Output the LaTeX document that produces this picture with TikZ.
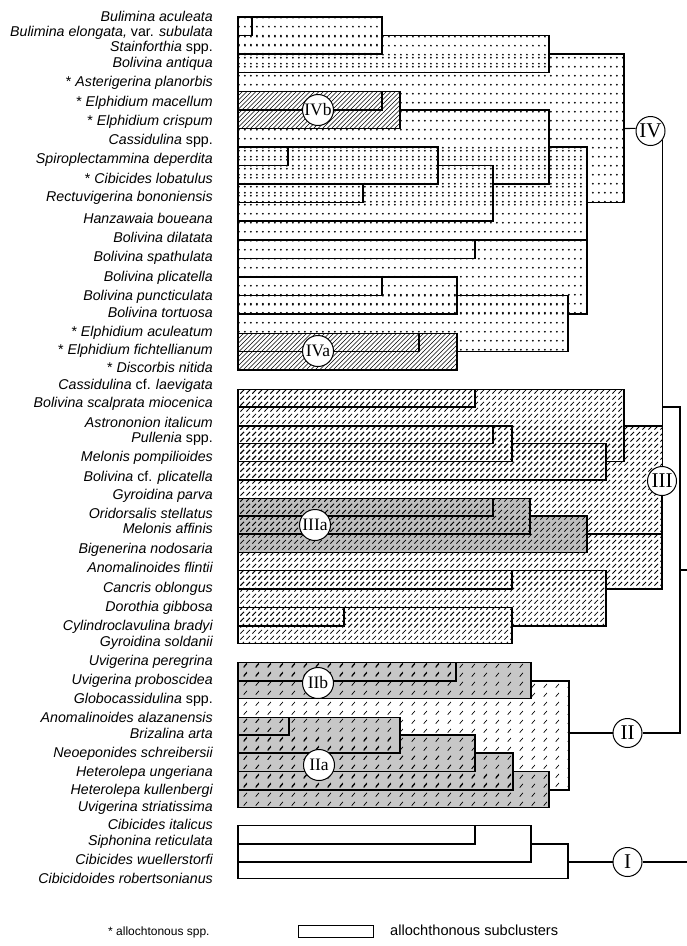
\documentclass[tikz,border=0pt]{standalone}
\usepackage{fontspec}
\setmainfont{Liberation Sans}
\newfontfamily\numfont{Liberation Serif}
\usetikzlibrary{patterns}
\pgfdeclarepatternformonly{ivdots}{\pgfqpoint{0pt}{0pt}}{\pgfqpoint{6.4pt}{9.25pt}}{\pgfqpoint{6.4pt}{9.25pt}}{%
  \pgfpathcircle{\pgfqpoint{3.2pt}{4.6pt}}{1.05pt}\pgfusepath{fill}}
\pgfdeclarepatternformonly{densehatch}{\pgfqpoint{-1pt}{-1pt}}{\pgfqpoint{5.5pt}{5.5pt}}{\pgfqpoint{4.5pt}{4.5pt}}{%
  \pgfsetlinewidth{0.65pt}\pgfpathmoveto{\pgfqpoint{0pt}{0pt}}\pgfpathlineto{\pgfqpoint{4.6pt}{4.6pt}}\pgfusepath{stroke}}
\pgfdeclarepatternformonly{dashhatch}{\pgfqpoint{0pt}{0pt}}{\pgfqpoint{6pt}{6pt}}{\pgfqpoint{6pt}{6pt}}{%
  \pgfsetlinewidth{0.85pt}\pgfpathmoveto{\pgfqpoint{0.5pt}{0.5pt}}\pgfpathlineto{\pgfqpoint{4.7pt}{4.7pt}}\pgfusepath{stroke}}
\pgfdeclarepatternformonly{sparsehatch}{\pgfqpoint{0pt}{0pt}}{\pgfqpoint{12pt}{9.25pt}}{\pgfqpoint{12pt}{9.25pt}}{%
  \pgfsetlinewidth{0.75pt}\pgfpathmoveto{\pgfqpoint{4pt}{2.5pt}}\pgfpathlineto{\pgfqpoint{7.5pt}{6.5pt}}\pgfusepath{stroke}}
\begin{document}
\begin{tikzpicture}[x=1pt,y=-1pt,
  dl/.style={line width=1.1pt, line cap=rect},
  cl/.style={line width=1.1pt},
  lab/.style={anchor=base east, inner sep=0pt, font=\fontsize{14.2}{16}\selectfont\itshape},
  leg/.style={anchor=base west, inner sep=0pt},
  bigc/.style={circle, draw, line width=1pt, fill=white, minimum size=29pt, inner sep=0pt, font=\numfont\fontsize{21}{21}\selectfont},
  subc/.style={circle, draw, line width=1pt, fill=white, minimum size=31pt, inner sep=0pt, font=\numfont\fontsize{17.5}{18}\selectfont},
  ]
\useasboundingbox (0,0) rectangle (687,946);
\fill[white] (0,0) rectangle (687,946);
% ---------- fills ----------
% IV dots
\foreach \x/\a/\b in {382/17/54, 549/35.5/72.5, 624/54/202.3, 587/147/314, 568/295.7/351.7, 457/333.3/370}
  \fill[pattern=ivdots] (238,\a) rectangle (\x,\b);
% IVb, IVa dense hatch
\foreach \x/\a/\b in {400/91.5/128.3, 457/333.3/370}{
  \fill[white] (238,\a) rectangle (\x,\b);
  \fill[pattern=densehatch] (238,\a) rectangle (\x,\b);}
% III dashed hatch
\foreach \x/\a/\b in {475/389.3/407, 624/389.3/461.7, 606/443.3/480, 662/426/589, 606/570.7/626, 512/607.3/643.3}
  \fill[pattern=dashhatch] (238,\a) rectangle (\x,\b);
% IIIa grey + hatch
\foreach \x/\a/\b in {493/498.3/516, 530/498.3/534, 587/516/552.3}
  \fill[black!25] (238,\a) rectangle (\x,\b);
\foreach \x/\a/\b in {493/498.3/516, 530/498.3/534, 587/516/552.3}
  \fill[pattern=dashhatch] (238,\a) rectangle (\x,\b);
% II sparse hatch
\fill[pattern=sparsehatch] (238,681) rectangle (569,790);
% IIb, IIa grey + sparse hatch
\foreach \x/\a/\b in {456/662.7/681, 531/662.7/698.3, 289/717.3/735, 400/717.3/753, 475/735/771.7, 513/753/790, 549/771.7/807.7}
  \fill[black!22] (238,\a) rectangle (\x,\b);
\foreach \x/\a/\b in {456/662.7/681, 531/662.7/698.3, 289/717.3/735, 400/717.3/753, 475/735/771.7, 513/753/790, 549/771.7/807.7}
  \fill[pattern=sparsehatch] (238,\a) rectangle (\x,\b);
% ---------- dendrogram lines ----------
\foreach \y/\a/\b in {17/238/382, 35.5/238/252, 35.5/382/549, 54/238/382, 54/549/624, 72.5/238/549,
  91.5/238/400, 110/238/382, 110/400/549, 128.3/238/400, 147/238/438, 147/549/587, 165.5/238/288,
  165.5/438/493, 184/238/438, 184/493/549, 202.3/238/363, 202.3/587/624, 221/238/493, 240/238/587,
  258.3/238/475, 277/238/457, 295.7/238/382, 295.7/457/568, 314/238/457, 314/568/587, 333.3/238/457,
  351.7/238/419, 351.7/457/568, 370/238/457,
  389.3/238/624, 407/238/475, 426/238/512, 426/624/662, 443.3/238/493, 443.3/512/606, 461.7/238/512,
  461.7/606/624, 480/238/606, 498.3/238/530, 516/238/493, 516/530/587, 534/238/530, 534/587/662,
  552.3/238/587, 570.7/238/606, 589/238/512, 589/606/662, 607.3/238/512, 626/238/344, 626/512/606,
  643.3/238/512,
  662.7/238/531, 681/238/456, 681/531/569, 698.3/238/531, 717.3/238/400, 735/238/289, 735/400/475,
  753/238/400, 753/475/513, 771.7/238/475, 771.7/513/549, 790/238/513, 790/549/569, 807.7/238/549,
  825.7/238/531, 844/238/475, 844/531/568, 862/238/531, 878.3/238/568}
  \draw[dl] (\a,\y) -- (\b,\y);
\foreach \x/\a/\b in {252/17/35.5, 382/17/54, 549/35.5/72.5, 624/54/202.3, 382/91.5/110, 400/91.5/128.3,
  549/110/184, 288/147/165.5, 438/147/184, 363/184/202.3, 493/165.5/221, 587/147/314, 475/240/258.3,
  382/277/295.7, 457/277/314, 568/295.7/351.7, 419/333.3/351.7, 457/333.3/370, 238/17/370,
  475/389.3/407, 624/389.3/461.7, 493/426/443.3, 512/426/461.7, 606/443.3/480, 493/498.3/516,
  530/498.3/534, 587/516/552.3, 512/570.7/589, 344/607.3/626, 512/607.3/643.3, 606/570.7/626, 238/389.3/643.3,
  456/662.7/681, 531/662.7/698.3, 569/681/790, 289/717.3/735, 400/717.3/753, 475/735/771.7,
  513/753/790, 549/771.7/807.7, 238/662.7/807.7,
  475/825.7/844, 531/825.7/862, 568/844/878.3, 238/825.7/878.3}
  \draw[dl] (\x,\a) -- (\x,\b);
% ---------- main cluster circles and connectors ----------
\node[bigc] (IV) at (650.5,131) {IV};
\node[bigc] (III) at (662,481) {III};
\node[bigc] (II) at (627.5,733) {II};
\node[bigc] (I) at (627.5,862) {I};
\coordinate (c4) at (624,128.5);
\coordinate (m3) at (662,589);
\coordinate (j4) at (662,407);
\coordinate (j5) at (680,407);
\coordinate (c2) at (569,733);
\coordinate (rj) at (680,570);
\coordinate (r) at (687,570);
\coordinate (c1) at (568,862);
\coordinate (r1) at (687,862);
\draw[cl] (c4) -- (IV.170);
\draw[cl] (IV.-37) -- (IV.-37 |- III.north);
\draw[cl] (III.south) -- (III.south |- m3);
\draw[cl] (j4) -- (j5) -- (j5 |- II.east) -- (II.east);
\draw[cl] (c2) -- (II.west);
\draw[cl] (rj) -- (r);
\draw[cl] (c1) -- (I.west);
\draw[cl] (I.east) -- (r1);
% ---------- subcluster circles ----------
\node[subc] (IVb) at (318,110) {IVb};
\node[subc] (IVa) at (318,351) {IVa};
\node[subc] (IIIa) at (315,525) {IIIa};
\node[subc] (IIb) at (318,683) {IIb};
\node[subc] (IIa) at (319,765) {IIa};
% ---------- species labels ----------
\node[lab] (s1) at (213,21.2) {Bulimina aculeata};
\node[lab] (s2) at (213,36.2) {Bulimina elongata, {\upshape var.} subulata};
\node[lab] (s3) at (213,51.2) {Stainforthia {\upshape spp.}};
\node[lab] (s4) at (213,67.2) {Bolivina antiqua};
\node[lab] (s5) at (213,86.2) {{\upshape *} Asterigerina planorbis};
\node[lab] (s6) at (213,106.2) {{\upshape *} Elphidium macellum};
\node[lab] (s7) at (213,125.5) {{\upshape *} Elphidium crispum};
\node[lab] (s8) at (213,144.5) {Cassidulina {\upshape spp.}};
\node[lab] (s9) at (213,163.8) {Spiroplectammina deperdita};
\node[lab] (s10) at (213,183.5) {{\upshape *} Cibicides lobatulus};
\node[lab] (s11) at (213,201.2) {Rectuvigerina bononiensis};
\node[lab] (s12) at (213,223.5) {Hanzawaia boueana};
\node[lab] (s13) at (213,242.2) {Bolivina dilatata};
\node[lab] (s14) at (213,261.8) {Bolivina spathulata};
\node[lab] (s15) at (213,281.2) {Bolivina plicatella};
\node[lab] (s16) at (213,300.2) {Bolivina puncticulata};
\node[lab] (s17) at (213,317.8) {Bolivina tortuosa};
\node[lab] (s18) at (213,336.2) {{\upshape *} Elphidium aculeatum};
\node[lab] (s19) at (213,354.5) {{\upshape *} Elphidium fichtellianum};
\node[lab] (s20) at (213,372.2) {{\upshape *} Discorbis nitida};
\node[lab] (t1) at (213,389.5) {Cassidulina {\upshape cf.} laevigata};
\node[lab] (t2) at (213,407.8) {Bolivina scalprata miocenica};
\node[lab] (t3) at (213,427.2) {Astrononion italicum};
\node[lab] (t4) at (213,442.8) {Pullenia {\upshape spp.}};
\node[lab] (t5) at (213,461.2) {Melonis pompilioides};
\node[lab] (t6) at (213,481.2) {Bolivina {\upshape cf.} plicatella};
\node[lab] (t7) at (213,499.5) {Gyroidina parva};
\node[lab] (t8) at (213,518.5) {Oridorsalis stellatus};
\node[lab] (t9) at (213,533.8) {Melonis affinis};
\node[lab] (t10) at (213,553.8) {Bigenerina nodosaria};
\node[lab] (t11) at (213,572.8) {Anomalinoides flintii};
\node[lab] (t12) at (213,592.2) {Cancris oblongus};
\node[lab] (t13) at (213,611.2) {Dorothia gibbosa};
\node[lab] (t14) at (213,630.2) {Cylindroclavulina bradyi};
\node[lab] (t15) at (213,646.2) {Gyroidina soldanii};
\node[lab] (u1) at (213,665.5) {Uvigerina peregrina};
\node[lab] (u2) at (213,684.5) {Uvigerina proboscidea};
\node[lab] (u3) at (213,703.5) {Globocassidulina {\upshape spp.}};
\node[lab] (u4) at (213,722.8) {Anomalinoides alazanensis};
\node[lab] (u5) at (213,738.5) {Brizalina arta};
\node[lab] (u6) at (213,757.8) {Neoeponides schreibersii};
\node[lab] (u7) at (213,776.2) {Heterolepa ungeriana};
\node[lab] (u8) at (213,794.5) {Heterolepa kullenbergi};
\node[lab] (u9) at (213,811.2) {Uvigerina striatissima};
\node[lab] (v1) at (213,829.5) {Cibicides italicus};
\node[lab] (v2) at (213,845.2) {Siphonina reticulata};
\node[lab] (v3) at (213,864.5) {Cibicides wuellerstorfi};
\node[lab] (v4) at (213,883.8) {Cibicidoides robertsonianus};
% ---------- legend ----------
\node[leg, font=\fontsize{12}{14}\selectfont] (lg1) at (108,935.5) {* allochtonous spp.};
\draw[line width=0.7pt] (298,925) rectangle (373,937);
\node[leg, font=\fontsize{14.6}{16}\selectfont] (lg2) at (390,935.5) {allochthonous subclusters};
\end{tikzpicture}
\end{document}
